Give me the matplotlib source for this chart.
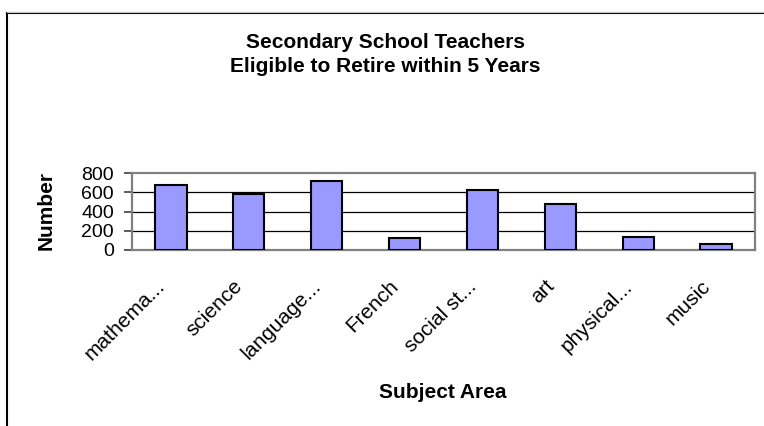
import matplotlib
matplotlib.use("Agg")
import matplotlib.pyplot as plt
import matplotlib.transforms as mtransforms
from matplotlib.lines import Line2D

categories = ["mathema...", "science", "language...", "French", "social st...", "art", "physical...", "music"]
values = [680, 580, 720, 125, 625, 480, 140, 60]
yticks = [0, 200, 400, 600, 800]

plt.rcParams['font.family'] = ['Liberation Sans', 'DejaVu Sans']

W, H = 764, 426
fig = plt.figure(figsize=(W / 100, H / 100), dpi=100)

# outer chart frame
fig.add_artist(Line2D([7 / W, 7 / W], [0, 1 - 13 / H], transform=fig.transFigure, color='black', lw=1.5))
fig.add_artist(Line2D([7 / W, 1], [1 - 13 / H, 1 - 13 / H], transform=fig.transFigure, color='black', lw=1.5))
fig.add_artist(Line2D([7 / W, 1], [1 - 11.5 / H, 1 - 11.5 / H], transform=fig.transFigure, color='#c8c8c8', lw=0.8))

ax = fig.add_axes([132 / W, 1 - 250 / H, (755 - 132) / W, (250 - 173) / H])
x = list(range(len(categories)))
ax.bar(x, values, width=0.4, color='#9999FF', edgecolor='black', linewidth=1.5, zorder=3)
ax.set_xlim(-0.5, len(categories) - 0.5)
ax.set_ylim(0, 800)
ax.set_yticks(yticks)
ax.set_yticklabels([str(v) for v in yticks], fontsize=14)
for v in yticks[1:-1]:
    ax.axhline(v, color='black', lw=0.9, zorder=1)

for s in ['top', 'right', 'left', 'bottom']:
    ax.spines[s].set_color('#808080')
    ax.spines[s].set_linewidth(1.6)
ax.tick_params(axis='y', length=6, width=1.2, color='#404040', pad=7)
ax.tick_params(axis='x', length=0, pad=24)

ax.set_xticks(x)
ax.set_xticklabels(categories, fontsize=15, rotation=45, ha='right', va='center', rotation_mode='anchor')
offset = mtransforms.ScaledTranslation(-9 / 100, 0, fig.dpi_scale_trans)
for lbl in ax.get_xticklabels():
    lbl.set_transform(lbl.get_transform() + offset)

fig.text(443 / W, 1 - 392 / H, "Subject Area", ha='center', va='center', fontsize=15, fontweight='bold')
fig.text(46 / W, 1 - 211 / H, "Number", ha='center', va='center', rotation=90, fontsize=15, fontweight='bold')

fig.text(385 / W, 1 - 42 / H, "Secondary School Teachers", ha='center', va='center', fontsize=15, fontweight='bold')
fig.text(385 / W, 1 - 67 / H, "Eligible to Retire within 5 Years", ha='center', va='center', fontsize=15, fontweight='bold')

fig.savefig("out.png", dpi=100, facecolor='white')
